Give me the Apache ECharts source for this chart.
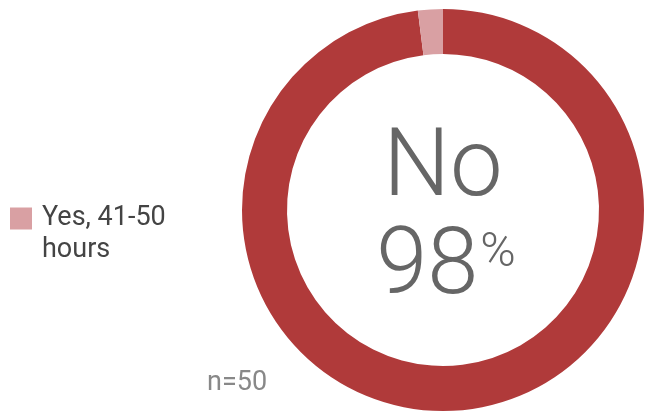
<!DOCTYPE html>
<html>
<head>
<meta charset="utf-8">
<script src="https://cdn.jsdelivr.net/npm/echarts@6/dist/echarts.min.js"></script>
<style>
  html, body { margin: 0; padding: 0; background: #fff; }
  #chart { width: 645px; height: 415px; }
</style>
</head>
<body>
<div id="chart"></div>
<script>
// Survey answers and their shares (percent)
const categories = ['No', 'Yes, 41-50 hours'];
const shares = [98, 2];
const colors = ['#b03a3a', '#d9a0a3'];
const sampleSize = 50;

const chart = echarts.init(document.getElementById('chart'), null, { renderer: 'canvas' });
const fontFamily = 'Roboto, "Noto Sans", sans-serif';

chart.setOption({
  animation: false,
  legend: {
    data: [categories[1]],
    orient: 'vertical',
    left: 10,
    top: 173,
    padding: 0,
    itemWidth: 22,
    itemHeight: 22,
    icon: 'rect',
    // leading blank line keeps the first text line level with the swatch
    formatter: function (name) {
      const parts = name.split(' hours');
      return '{t| }\n{t|' + parts[0] + '}\n{t|hours}';
    },
    textStyle: {
      rich: {
        t: {
          fontFamily: fontFamily,
          fontSize: 27,
          color: '#444',
          lineHeight: 32,
          padding: [0, 0, 0, 5]
        }
      }
    }
  },
  graphic: [
    {
      type: 'text',
      style: {
        text: categories[0],
        x: 443, y: 171,
        fill: '#666',
        fontFamily: fontFamily,
        fontWeight: 300,
        fontSize: 94,
        align: 'center',
        verticalAlign: 'middle'
      }
    },
    {
      type: 'text',
      style: {
        text: '{d|' + shares[0] + '}{p|%}',
        x: 446, y: 270,
        align: 'center',
        verticalAlign: 'middle',
        rich: {
          d: { fill: '#666', fontFamily: fontFamily, fontWeight: 300, fontSize: 92, verticalAlign: 'bottom' },
          p: { fill: '#666', fontFamily: fontFamily, fontWeight: 300, fontSize: 48, padding: [0, 0, 38, 2], verticalAlign: 'bottom' }
        }
      }
    },
    {
      type: 'text',
      style: {
        text: 'n=' + sampleSize,
        x: 207, y: 383,
        fill: '#888',
        fontFamily: fontFamily,
        fontSize: 27,
        align: 'left',
        verticalAlign: 'middle'
      }
    }
  ],
  series: [{
    type: 'pie',
    center: [443, 210],
    radius: [156, 201],
    startAngle: 90,
    clockwise: true,
    label: { show: false },
    labelLine: { show: false },
    emphasis: { disabled: true },
    itemStyle: { borderWidth: 0 },
    data: categories.map((c, i) => ({ name: c, value: shares[i], itemStyle: { color: colors[i] } }))
  }]
});
</script>
</body>
</html>
